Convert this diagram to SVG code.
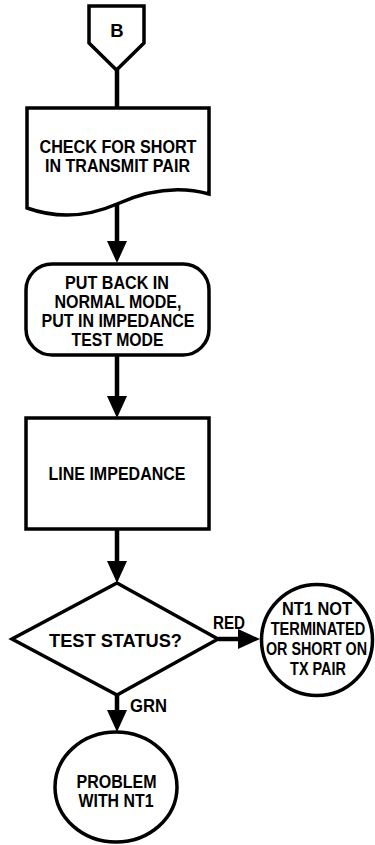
<svg xmlns="http://www.w3.org/2000/svg" width="375" height="845" viewBox="0 0 375 845">
<style>
.s{fill:#fff;stroke:#000;stroke-width:3.5;stroke-linejoin:miter}
.c{fill:none;stroke:#000;stroke-width:4.5}
text{font-family:"Liberation Sans",Arial,sans-serif;font-weight:bold;font-size:18.5px;fill:#000;text-anchor:middle}
.l{text-anchor:start}
</style>
<defs>
<marker id="ah" markerUnits="userSpaceOnUse" viewBox="0 0 22 20" refX="12" refY="10" markerWidth="22" markerHeight="20" orient="auto">
<path d="M0,0 L22,10 L0,20 Z" fill="#000"/>
</marker>
</defs>
<rect width="375" height="845" fill="#fff"/>
<g id="connectors">
<line class="c" x1="117" y1="70" x2="117" y2="108"/>
<line class="c" x1="117" y1="204" x2="117" y2="253" marker-end="url(#ah)"/>
<line class="c" x1="117" y1="355" x2="117" y2="408" marker-end="url(#ah)"/>
<line class="c" x1="117" y1="529" x2="117" y2="573" marker-end="url(#ah)"/>
<line class="c" x1="218" y1="639" x2="250" y2="639" marker-end="url(#ah)"/>
<line class="c" x1="117" y1="695" x2="117" y2="722" marker-end="url(#ah)"/>
<text class="l" x="213" y="629" textLength="32" lengthAdjust="spacingAndGlyphs">RED</text>
<text class="l" x="130" y="712" textLength="37" lengthAdjust="spacingAndGlyphs">GRN</text>
</g>
<g id="connector-b">
<path class="s" d="M89,6 L144,6 L144,43 L116.5,70 L89,43 Z"/>
<text x="117" y="37">B</text>
</g>
<g id="check-short">
<path class="s" d="M27,108 L209,108 L209,194 C180,186 150,189 117,204 C85,218 55,218 27,208 Z"/>
<text x="118" y="153" textLength="157" lengthAdjust="spacingAndGlyphs">CHECK FOR SHORT</text>
<text x="117.5" y="172" textLength="145" lengthAdjust="spacingAndGlyphs">IN TRANSMIT PAIR</text>
</g>
<g id="normal-mode">
<rect class="s" x="26" y="264" width="183" height="91" rx="26" ry="26"/>
<text x="117" y="289" textLength="104" lengthAdjust="spacingAndGlyphs">PUT BACK IN</text>
<text x="118" y="308" textLength="127" lengthAdjust="spacingAndGlyphs">NORMAL MODE,</text>
<text x="118" y="327" textLength="153" lengthAdjust="spacingAndGlyphs">PUT IN IMPEDANCE</text>
<text x="117.5" y="346" textLength="92" lengthAdjust="spacingAndGlyphs">TEST MODE</text>
</g>
<g id="line-impedance">
<rect class="s" x="26" y="418" width="183" height="111"/>
<text x="117" y="480" textLength="137" lengthAdjust="spacingAndGlyphs">LINE IMPEDANCE</text>
</g>
<g id="test-status">
<path class="s" d="M117,583 L218,639 L117,695 L12,639 Z"/>
<text x="115.5" y="647" textLength="133" lengthAdjust="spacingAndGlyphs">TEST STATUS?</text>
</g>
<g id="nt1-not-terminated">
<circle class="s" cx="317" cy="640" r="55.5"/>
<text transform="translate(317,615) scale(0.885,1)">NT1 NOT</text>
<text transform="translate(318,635) scale(0.79,1)">TERMINATED</text>
<text transform="translate(316.5,655) scale(0.775,1)">OR SHORT ON</text>
<text transform="translate(318,675) scale(0.78,1)">TX PAIR</text>
</g>
<g id="problem-nt1">
<ellipse class="s" cx="116" cy="787" rx="61" ry="55"/>
<text x="116.5" y="788" textLength="80" lengthAdjust="spacingAndGlyphs">PROBLEM</text>
<text x="116" y="807" textLength="75" lengthAdjust="spacingAndGlyphs">WITH NT1</text>
</g>
</svg>
